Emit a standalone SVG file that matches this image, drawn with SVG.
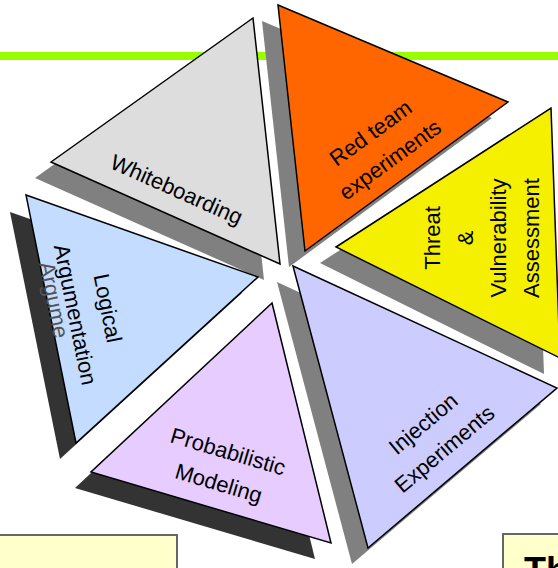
<svg xmlns="http://www.w3.org/2000/svg" width="558" height="568" viewBox="0 0 558 568">
  <style>
    .tri { stroke: #000; stroke-width: 1.5; stroke-linejoin: miter; }
    .sh-light { fill: #808080; }
    .sh-dark { fill: #333333; }
    .lbl { font-family: "Liberation Sans", Arial, sans-serif; font-size: 22px; fill: #000; text-anchor: middle; }
    .box { fill: #FFFFCC; stroke: #666666; stroke-width: 2; }
  </style>

  <rect width="558" height="568" fill="#FFFFFF"/>

  <!-- green rule across the top -->
  <rect x="0" y="52" width="558" height="8" fill="#99FF00"/>

  <!-- pie of triangular segments, each with an offset drop shadow -->
  <g id="whiteboarding">
    <polygon class="sh-light" points="35,178 237,34 264,280"/>
    <polygon class="tri" fill="#DDDDDD" points="51,162 253,18 280,264"/>
    <g transform="translate(176,191) rotate(24)">
      <text class="lbl" x="0" y="6">Whiteboarding</text>
    </g>
  </g>

  <g id="red-team">
    <polygon class="sh-light" points="262,21 492,118 289,267"/>
    <polygon class="tri" fill="#FF6600" points="278,5 508,102 305,251"/>
    <g transform="translate(380.7,146.7) rotate(-36)">
      <text class="lbl" x="0" y="-9.5">Red team</text>
      <text class="lbl" x="0" y="23.5">experiments</text>
    </g>
  </g>

  <g id="threat">
    <polygon class="sh-light" points="320,263 535,124 544,374"/>
    <polygon class="tri" fill="#F4F000" points="336,247 551,108 560,358"/>
    <g transform="translate(482.5,238) rotate(-90)">
      <text class="lbl" x="0" y="-42.5">Threat</text>
      <text class="lbl" x="0" y="-9.5">&amp;</text>
      <text class="lbl" x="0" y="23.5">Vulnerability</text>
      <text class="lbl" x="0" y="56.5">Assessment</text>
    </g>
  </g>

  <g id="injection">
    <polygon class="sh-light" points="277,282 541,404 352,564"/>
    <polygon class="tri" fill="#CCCCFF" points="293,266 557,388 368,548"/>
    <g transform="translate(434.2,436.7) rotate(-40)">
      <text class="lbl" x="0" y="-9.5">Injection</text>
      <text class="lbl" x="0" y="23.5">Experiments</text>
    </g>
  </g>

  <g id="logical">
    <polygon class="sh-dark" points="10,212 242,293 60,459"/>
    <polygon class="tri" fill="#C4DCFF" points="26,195 258,277 76,443"/>
    <g transform="translate(91,311.5) rotate(78.6)">
      <text class="lbl" x="-18.7" y="41.5" fill="#555555" style="fill:#555555">Argume</text>
      <text class="lbl" x="0" y="-9.5">Logical</text>
      <text class="lbl" x="0" y="23.5">Argumentation</text>
    </g>
  </g>

  <g id="probabilistic">
    <polygon class="sh-dark" points="256,319 75,488 315,559"/>
    <polygon class="tri" fill="#E6CCFF" points="272,303 91,472 331,543"/>
    <g transform="translate(223.25,467.9) rotate(16.5)">
      <text class="lbl" x="0" y="-9.5">Probabilistic</text>
      <text class="lbl" x="0" y="23.5">Modeling</text>
    </g>
  </g>

  <!-- note boxes along the bottom edge -->
  <g id="note-left">
    <rect class="box" x="-2" y="535" width="179" height="40"/>
  </g>
  <g id="note-right">
    <rect class="box" x="503" y="534" width="70" height="40"/>
    <text x="524" y="583" font-family="Liberation Sans, Arial, sans-serif" font-size="36" font-weight="bold" fill="#000">Th</text>
  </g>
</svg>
